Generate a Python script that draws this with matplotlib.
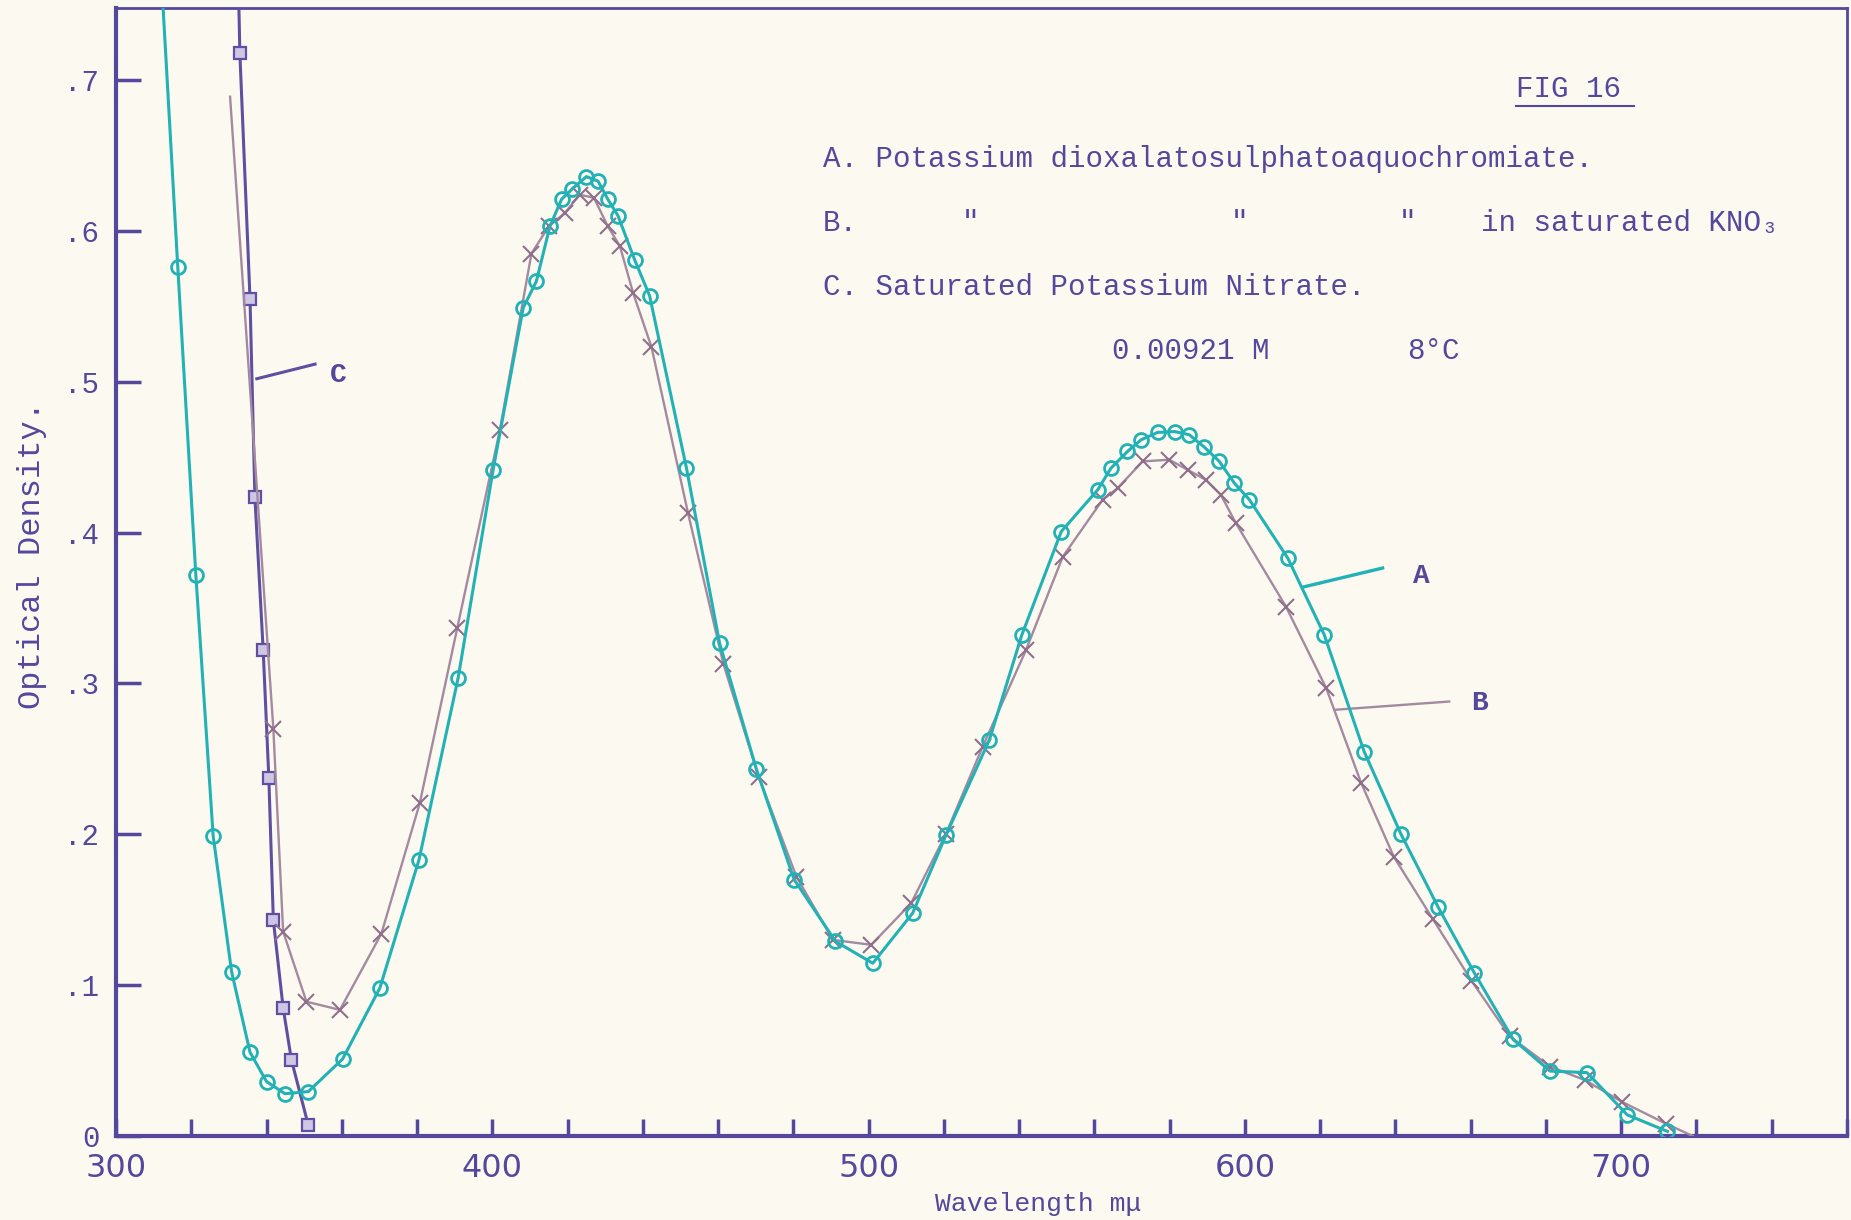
import matplotlib.pyplot as plt

# Curve A: potassium dioxalatosulphatoaquochromiate (circles)
a_nm = [312.0, 316.4, 321.2, 325.8, 330.7, 335.6, 340.0, 344.9, 351.1, 360.2,
        370.1, 380.5, 390.9, 400.2, 408.2, 411.7, 415.3, 418.4, 421.3, 425.0,
        428.1, 430.7, 433.4, 437.8, 441.8, 451.6, 460.4, 470.2, 480.2, 491.2,
        501.1, 511.7, 520.6, 532.1, 540.7, 551.2, 560.9, 564.4, 568.8, 572.4,
        576.8, 581.3, 585.2, 589.2, 593.2, 597.2, 601.2, 611.4, 621.1, 631.7,
        641.5, 651.3, 661.0, 671.3, 681.1, 690.9, 701.6, 712.3]
a_od = [0.770, 0.576, 0.372, 0.199, 0.109, 0.0555, 0.036, 0.028, 0.0294, 0.051,
        0.098, 0.183, 0.3035, 0.4416, 0.549, 0.5666, 0.603, 0.621, 0.628, 0.636,
        0.633, 0.621, 0.610, 0.581, 0.557, 0.4427, 0.3266, 0.243, 0.170, 0.129,
        0.1145, 0.1477, 0.1996, 0.2626, 0.332, 0.4007, 0.4284, 0.4427, 0.4538, 0.4615,
        0.4664, 0.467, 0.4649, 0.4567, 0.4472, 0.4328, 0.4218, 0.3831, 0.3322, 0.2548,
        0.200, 0.152, 0.108, 0.064, 0.043, 0.042, 0.014, 0.003]

# Curve B: same complex in saturated KNO3 (crosses)
b_nm = [330.3, 341.8, 344.4, 350.6, 359.5, 370.5, 380.7, 390.7, 402.0, 410.4,
        415.0, 419.3, 423.2, 427.0, 430.7, 433.9, 437.4, 442.3, 452.0, 461.4,
        470.8, 480.8, 490.5, 500.7, 511.3, 520.5, 530.3, 541.8, 551.6, 562.2,
        566.2, 572.8, 579.9, 584.8, 589.6, 593.6, 597.6, 610.9, 621.6, 630.9,
        639.6, 649.9, 660.2, 670.4, 681.1, 690.4, 700.3, 712.0, 719.0]
b_od = [0.689, 0.270, 0.1355, 0.089, 0.0836, 0.134, 0.2205, 0.337, 0.468, 0.585,
        0.603, 0.612, 0.624, 0.622, 0.603, 0.590, 0.559, 0.523, 0.413, 0.313,
        0.238, 0.172, 0.130, 0.1267, 0.1543, 0.200, 0.258, 0.322, 0.384, 0.4218,
        0.4295, 0.4472, 0.4483, 0.4416, 0.435, 0.4251, 0.4063, 0.351, 0.297, 0.234,
        0.185, 0.144, 0.103, 0.066, 0.046, 0.037, 0.0225, 0.008, 0.0]

# Curve C: saturated potassium nitrate (squares)
c_nm = [332.3, 332.9, 335.6, 336.9, 339.1, 340.6, 341.8, 344.4, 346.6, 351.1]
c_od = [0.790, 0.718, 0.555, 0.4234, 0.322, 0.2375, 0.143, 0.085, 0.0505, 0.007]

x_major = [300, 400, 500, 600, 700]
y_ticks = [0, 0.1, 0.2, 0.3, 0.4, 0.5, 0.6, 0.7]
y_labels = ['0', '.1', '.2', '.3', '.4', '.5', '.6', '.7']

PAPER = '#fcfaf0'
INK = '#55479c'
TEAL = '#22b2b6'
MAUVE = '#a48aa0'
PURPLE = '#5e4fa2'
MONO = ['Liberation Mono', 'DejaVu Sans Mono']

fig = plt.figure(figsize=(18.51, 12.20), dpi=100, facecolor=PAPER)
ax = fig.add_axes([0.0627, 0.0689, 0.9351, 0.9248])
ax.set_facecolor(PAPER)

ax.plot(c_nm, c_od, color=PURPLE, lw=2.2, marker='s', ms=9, mfc='#cfc6e6',
        mec=PURPLE, mew=1.6, zorder=3)
ax.plot(b_nm, b_od, color=MAUVE, lw=1.7, marker='x', ms=12, mec='#8f6f8c',
        mew=1.5, markevery=slice(1, len(b_nm) - 1), zorder=4)
ax.plot(a_nm, a_od, color=TEAL, lw=2.2, marker='o', ms=10, mfc='none',
        mec=TEAL, mew=2.0, zorder=5)

ax.set_xlim(300, 760)
ax.set_ylim(0, 0.748)

ax.set_xticks(x_major)
ax.set_xticks(range(300, 761, 20), minor=True)
ax.set_xticklabels([str(v) for v in x_major], fontsize=23, color=INK,
                   family=['DejaVu Sans'])
ax.set_yticks(y_ticks)
ax.set_yticklabels(y_labels, fontsize=21, color=INK, family=MONO)
ax.tick_params(axis='x', which='both', direction='in', length=12, width=2.5,
               color=INK, pad=12)
ax.tick_params(axis='y', direction='in', length=18, width=2.5, color=INK, pad=12)

for side in ['left', 'bottom']:
    ax.spines[side].set_color(INK)
    ax.spines[side].set_linewidth(3)
for side in ['top', 'right']:
    ax.spines[side].set_color(INK)
    ax.spines[side].set_linewidth(2)

ax.set_ylabel('Optical Density.', fontsize=23, color=INK, family=MONO)
ax.yaxis.set_label_coords(-0.040, 0.515)
ax.set_xlabel('Wavelength m\u03bc', fontsize=19, color=INK, family=MONO)
ax.xaxis.set_label_coords(0.533, -0.05)

# figure heading and key
txt = dict(fontsize=21, color=INK, family=MONO, va='center', ha='left')
ax.text(672.1, 0.694, 'FIG 16', **txt)
ax.plot([672.1, 703.4], [0.683, 0.683], color=INK, lw=1.5)
ax.text(487.8, 0.648, 'A. Potassium dioxalatosulphatoaquochromiate.', **txt)
ax.text(487.8, 0.605, 'B.', **txt)
ax.text(524.7, 0.605, '"', **txt)
ax.text(596.2, 0.605, '"', **txt)
ax.text(640.8, 0.605, '"', **txt)
ax.text(662.7, 0.605, 'in saturated KNO\u2083', **txt)
ax.text(487.8, 0.563, 'C. Saturated Potassium Nitrate.', **txt)
ax.text(564.8, 0.5206, '0.00921 M', **txt)
ax.text(643.2, 0.5206, '8\u00b0C', **txt)

# curve labels
lab = dict(fontsize=20, color=INK, family=MONO, fontweight='bold', va='center')
ax.plot([615.3, 636.6], [0.3638, 0.3765], color=TEAL, lw=2.4)
ax.text(644.6, 0.371, 'A', **lab)
ax.plot([623.8, 654.3], [0.2825, 0.288], color=MAUVE, lw=1.7)
ax.text(660.0, 0.287, 'B', **lab)
ax.plot([337.4, 352.9], [0.502, 0.5117], color=PURPLE, lw=2.2)
ax.text(356.8, 0.5046, 'C', **lab)

fig.savefig('out.png', dpi=100, facecolor=PAPER)
